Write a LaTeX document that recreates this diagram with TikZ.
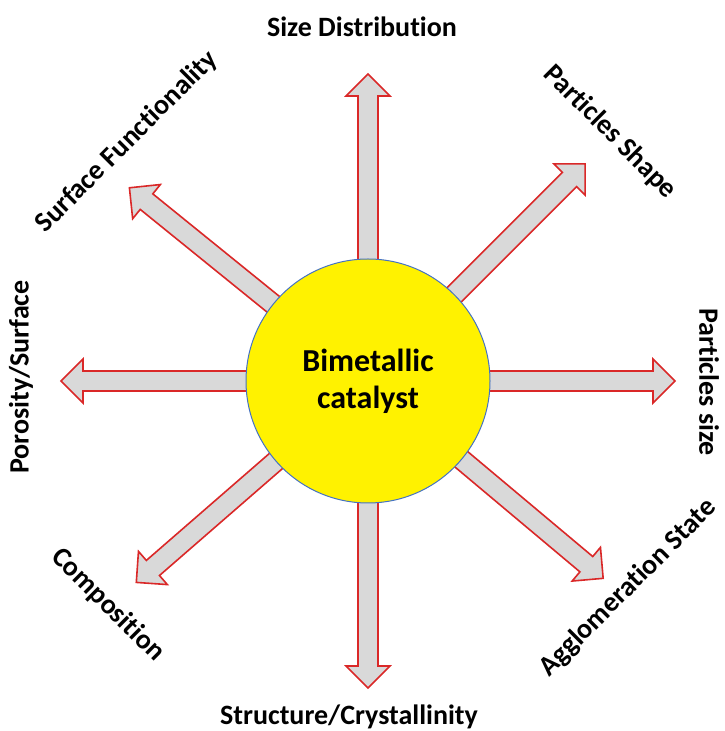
\documentclass[tikz,border=0pt]{standalone}
\usepackage{fontspec}
\setmainfont{Carlito}[Ligatures=NoCommon]
\usepackage{tikz}

\definecolor{arrowred}{RGB}{218,40,40}
\definecolor{arrowgray}{RGB}{217,217,217}
\definecolor{rimblue}{RGB}{68,114,196}

\begin{document}
\begin{tikzpicture}[x=1pt, y=1pt,
    blockarrow/.style={draw=arrowred, fill=arrowgray, line width=1.6pt, line join=miter},
    hub/.style={circle, draw=rimblue, fill=yellow, line width=1pt, minimum size=244pt, inner sep=0pt,
        align=center, font=\bfseries\fontsize{32}{37}\selectfont},
    prop/.style={font=\bfseries\fontsize{28}{32}\selectfont, inner sep=0pt}]
    \useasboundingbox (0,0) rectangle (724,731);
    \coordinate (c) at (368,350);

    \foreach \a in {90,45,0,-40,-90,221,180,141} {
        \begin{scope}[shift={(c)}, rotate=\a]
            \draw [blockarrow] (116,-10) -- (285,-10) -- (285,-22) -- (307,0) -- (285,22) -- (285,10) -- (116,10) -- cycle;
        \end{scope}
    }

    \node [hub] (cat) at (c) {Bimetallic\\catalyst};

    \node [prop] (sd) at (362,704) {Size Distribution};
    \node [prop, rotate=-45] (ps) at (610,599) {Particles Shape};
    \node [prop, rotate=-90] (pz) at (709,349) {Particles size};
    \node [prop, rotate=45] (as) at (628,143) {Agglomeration State};
    \node [prop] (sc) at (349,14) {Structure/Crystallinity};
    \node [prop, rotate=-45] (co) at (108,126) {Composition};
    \node [prop, rotate=90] (po) at (21,354) {Porosity/Surface};
    \node [prop, rotate=45] (sf) at (127,589) {Surface Functionality};
\end{tikzpicture}
\end{document}
